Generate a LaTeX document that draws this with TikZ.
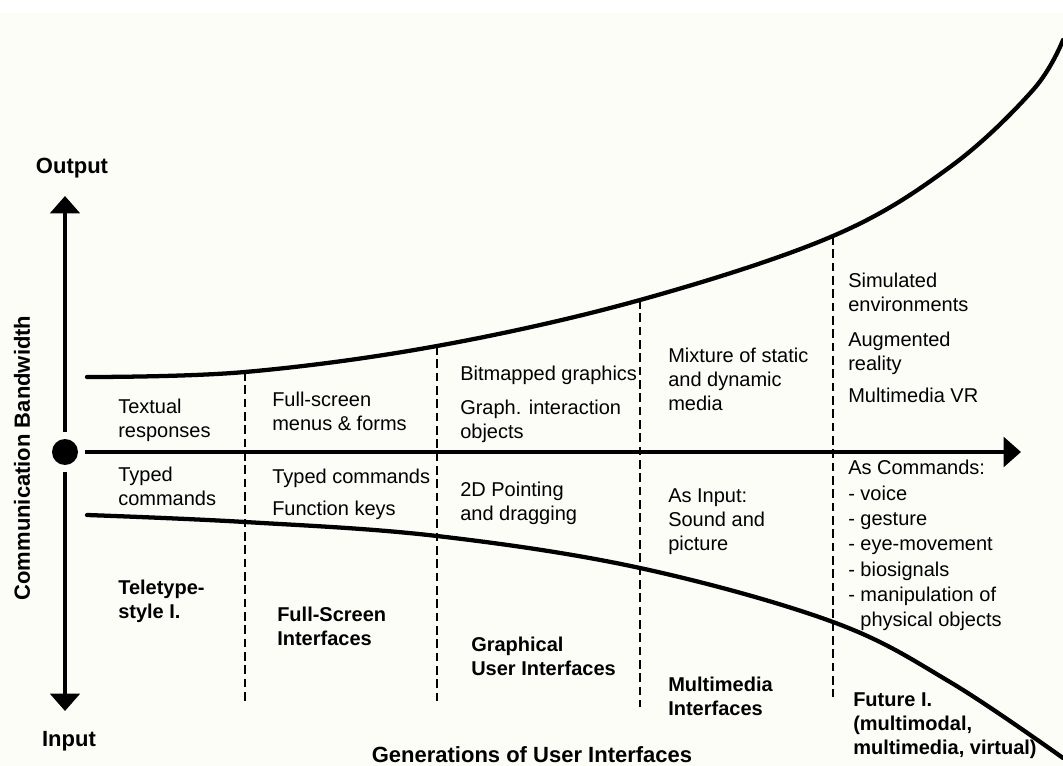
\documentclass[tikz,border=0pt]{standalone}
\usepackage{fontspec}
\setmainfont{Liberation Sans}
\usetikzlibrary{arrows.meta}
\definecolor{paper}{RGB}{252,253,246}

\begin{document}
\begin{tikzpicture}[
    x=0.75pt, y=-0.75pt,
    >={Triangle[width=22pt,length=13pt]},
    axis/.style={line width=3pt},
    bound/.style={line width=3.2pt, line cap=round},
    sep/.style={line width=1.4pt, dash pattern=on 6.5pt off 3.5pt},
    txt/.style={anchor=north west, inner sep=0pt, align=left,
        font=\fontsize{15}{18}\selectfont},
    ttl/.style={txt, font=\fontsize{15}{18}\selectfont\bfseries},
    axlbl/.style={anchor=center, inner sep=0pt, font=\fontsize{16.5}{20}\selectfont\bfseries}]

    % background
    \fill[white] (0,0) rectangle (1063,766);
    \fill[paper] (0,13) rectangle (1063,766);
    \useasboundingbox (0,0) rectangle (1063,766);

    % origin
    \node[circle, fill=black, inner sep=0pt, minimum size=19.5pt] (origin) at (65,452) {};
    \coordinate (outtop) at (65,196);
    \coordinate (inbot) at (65,711);
    \coordinate (genend) at (1021,452);

    % axes
    \draw[axis, ->, shorten <=5pt] (origin) -- (outtop);
    \draw[axis, ->, shorten <=5pt] (origin) -- (inbot);
    \draw[axis, line width=3.6pt, ->, shorten <=5pt] (origin) -- (genend);

    % axis labels
    \node[axlbl] (output) at (72,168) {Output};
    \node[axlbl] (input) at (69,741) {Input};
    \node[axlbl, rotate=90] (bandwidth) at (22,458) {Communication Bandwidth};
    \node[axlbl] (generations) at (532,755) {Generations of User Interfaces};

    % output and input bounds
    \draw[bound] plot[smooth, tension=0.6] coordinates {(87,377) (245,372) (437,346)
        (640,300) (833,236) (950,167) (1033,90) (1063,40)};
    \draw[bound] plot[smooth, tension=0.6] coordinates {(87,515) (245,522) (437,536)
        (640,568) (833,622) (950,682) (1063,758)};

    % generation borders
    \draw[sep] (245,372) -- (245,703);
    \draw[sep] (437,346) -- (437,703);
    \draw[sep] (640,300) -- (640,707);
    \draw[sep] (833,236) -- (833,697);

    % teletype
    \node[txt] (tele-out) at (118,399) {Textual\\responses};
    \node[txt] (tele-in) at (118,467) {Typed\\commands};
    \node[ttl] (tele) at (118,580) {Teletype-\\style I.};

    % full-screen
    \node[txt] (full-out) at (272,392) {Full-screen\\menus \& forms};
    \node[txt] (full-in) at (272,469) {Typed commands};
    \node[txt] (full-keys) at (272,501) {Function keys};
    \node[ttl] (full) at (277,607) {Full-Screen\\Interfaces};

    % graphical
    \node[txt] (gui-bitmap) at (460,366) {Bitmapped graphics};
    \node[txt] (gui-out) at (460,400) {Graph. interaction\\objects};
    \node[txt] (gui-in) at (460,482) {2D Pointing\\and dragging};
    \node[ttl] (gui) at (471,637) {Graphical\\User Interfaces};

    % multimedia
    \node[txt] (mm-out) at (668,348) {Mixture of static\\and dynamic\\media};
    \node[txt] (mm-in) at (668,488) {As Input:\\Sound and\\picture};
    \node[ttl] (mm) at (668,677) {Multimedia\\Interfaces};

    % future
    \node[txt] (fut-sim) at (848,273) {Simulated\\environments};
    \node[txt] (fut-ar) at (848,332) {Augmented\\reality};
    \node[txt] (fut-vr) at (848,388) {Multimedia VR};
    \node[txt, font=\fontsize{15}{19}\selectfont] (fut-in) at (848,460)
        {As Commands:\\- voice\\- gesture\\- eye-movement\\- biosignals\\- manipulation of\\\phantom{- }physical objects};
    \node[ttl] (fut) at (853,692) {Future I.\\(multimodal,\\multimedia, virtual)};

\end{tikzpicture}
\end{document}
